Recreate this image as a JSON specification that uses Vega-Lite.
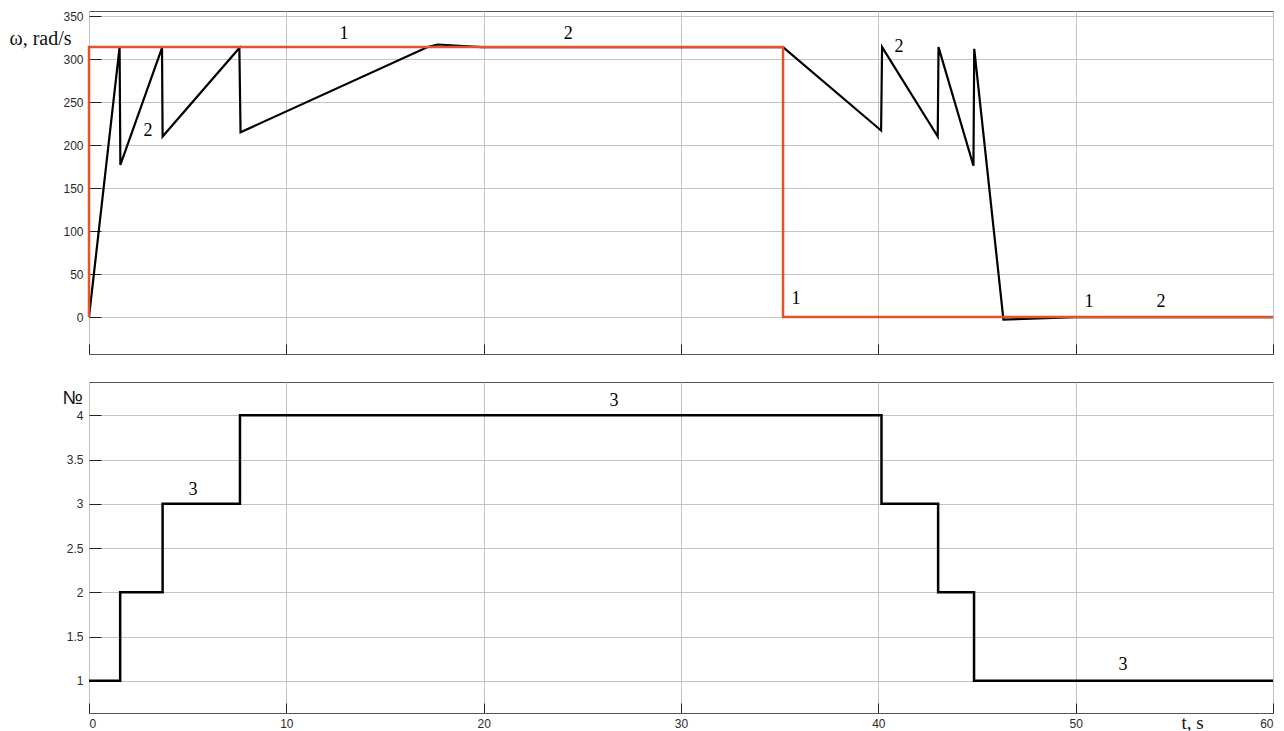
{
  "$schema": "https://vega.github.io/schema/vega-lite/v6.json",
  "padding": {"left": 8, "top": 9, "right": 4, "bottom": 0},
  "background": "white",
  "config": {
    "view": {"stroke": "#555", "strokeWidth": 1},
    "concat": {"spacing": 26},
    "axis": {
      "grid": false,
      "domain": false,
      "labelFont": "Liberation Sans",
      "labelFontSize": 12,
      "labelColor": "#2a2a2a",
      "tickColor": "#222",
      "tickWidth": 1,
      "gridColor": "#c4c4c4",
      "gridWidth": 1,
      "titleFont": "Liberation Serif",
      "titleFontWeight": "normal",
      "titleColor": "#111"
    }
  },
  "resolve": {"scale": {"x": "independent", "y": "independent"}, "axis": {"x": "independent", "y": "independent"}},
  "datasets": {
    "ref": [
      {"i": 0, "t": 0, "w": 0},
      {"i": 1, "t": 0, "w": 314},
      {"i": 2, "t": 35.17, "w": 314},
      {"i": 3, "t": 35.17, "w": 0},
      {"i": 4, "t": 60, "w": 0}
    ],
    "speed": [
      {"i": 0, "t": 0, "w": 0},
      {"i": 1, "t": 1.55, "w": 314},
      {"i": 2, "t": 1.59, "w": 177},
      {"i": 3, "t": 3.7, "w": 313},
      {"i": 4, "t": 3.73, "w": 210},
      {"i": 5, "t": 7.62, "w": 313},
      {"i": 6, "t": 7.68, "w": 215},
      {"i": 7, "t": 17.16, "w": 314},
      {"i": 8, "t": 17.67, "w": 317},
      {"i": 9, "t": 19.9, "w": 314},
      {"i": 10, "t": 35.17, "w": 314},
      {"i": 11, "t": 40.14, "w": 217},
      {"i": 12, "t": 40.19, "w": 314},
      {"i": 13, "t": 43.01, "w": 210},
      {"i": 14, "t": 43.05, "w": 314},
      {"i": 15, "t": 44.82, "w": 176},
      {"i": 16, "t": 44.86, "w": 312},
      {"i": 17, "t": 46.34, "w": -3},
      {"i": 18, "t": 50, "w": 0},
      {"i": 19, "t": 60, "w": 0}
    ],
    "num": [
      {"i": 0, "t": 0, "n": 1},
      {"i": 1, "t": 1.58, "n": 1},
      {"i": 2, "t": 1.58, "n": 2},
      {"i": 3, "t": 3.73, "n": 2},
      {"i": 4, "t": 3.73, "n": 3},
      {"i": 5, "t": 7.65, "n": 3},
      {"i": 6, "t": 7.65, "n": 4},
      {"i": 7, "t": 40.16, "n": 4},
      {"i": 8, "t": 40.16, "n": 3},
      {"i": 9, "t": 43.03, "n": 3},
      {"i": 10, "t": 43.03, "n": 2},
      {"i": 11, "t": 44.85, "n": 2},
      {"i": 12, "t": 44.85, "n": 1},
      {"i": 13, "t": 60, "n": 1}
    ],
    "lab1": [
      {"t": 12.92, "w": 329.8, "label": "1"},
      {"t": 24.28, "w": 329.8, "label": "2"},
      {"t": 2.99, "w": 216, "label": "2"},
      {"t": 41.05, "w": 314.7, "label": "2"},
      {"t": 35.83, "w": 20.9, "label": "1"},
      {"t": 50.68, "w": 17.4, "label": "1"},
      {"t": 54.33, "w": 17.4, "label": "2"}
    ],
    "lab2": [
      {"t": 5.27, "n": 3.16, "label": "3"},
      {"t": 26.6, "n": 4.16, "label": "3"},
      {"t": 52.4, "n": 1.18, "label": "3"}
    ]
  },
  "vconcat": [
    {
      "width": 1184,
      "height": 343,
      "layer": [
        {
          "data": {"name": "speed"},
          "mark": {"type": "line", "color": "#000", "strokeWidth": 2.2},
          "encoding": {
            "x": {"field": "t", "type": "quantitative",
                  "scale": {"domain": [0, 60], "nice": false, "zero": false},
                  "axis": {"orient": "bottom", "values": [0, 10, 20, 30, 40, 50, 60], "labels": false, "grid": true, "tickSize": -10, "title": null}},
            "y": {"field": "w", "type": "quantitative",
                  "scale": {"domain": [-43, 356], "nice": false, "zero": false},
                  "axis": {"orient": "left", "values": [0, 50, 100, 150, 200, 250, 300, 350], "grid": true, "tickSize": -12, "labelPadding": 18,
                           "title": "ω, rad/s", "titleAngle": 0, "titleAlign": "left", "titleBaseline": "middle", "titleX": -80, "titleY": 27, "titleFontSize": 20}},
            "order": {"field": "i", "type": "quantitative"}
          }
        },
        {
          "data": {"name": "ref"},
          "mark": {"type": "line", "color": "#e0562a", "strokeWidth": 2.5},
          "encoding": {
            "x": {"field": "t", "type": "quantitative"},
            "y": {"field": "w", "type": "quantitative"},
            "order": {"field": "i", "type": "quantitative"}
          }
        },
        {
          "data": {"name": "lab1"},
          "mark": {"type": "text", "font": "Liberation Serif", "fontSize": 18, "color": "#000", "align": "center", "baseline": "middle"},
          "encoding": {
            "x": {"field": "t", "type": "quantitative"},
            "y": {"field": "w", "type": "quantitative"},
            "text": {"field": "label"}
          }
        }
      ]
    },
    {
      "width": 1184,
      "height": 331,
      "layer": [
        {
          "data": {"name": "num"},
          "mark": {"type": "line", "color": "#000", "strokeWidth": 2.5},
          "encoding": {
            "x": {"field": "t", "type": "quantitative",
                  "scale": {"domain": [0, 60], "nice": false, "zero": false},
                  "axis": {"orient": "bottom", "values": [0, 10, 20, 30, 40, 50, 60], "grid": true, "tickSize": -10, "labelPadding": 15,
                           "title": "t, s", "titleFontSize": 19, "titleX": 1103, "titleY": 9, "titleBaseline": "middle", "titleAlign": "center"}},
            "y": {"field": "n", "type": "quantitative",
                  "scale": {"domain": [0.636, 4.377], "nice": false, "zero": false},
                  "axis": {"orient": "left", "values": [1, 1.5, 2, 2.5, 3, 3.5, 4], "format": "~g", "grid": true, "tickSize": -12, "labelPadding": 18,
                           "title": "№", "titleFont": "Liberation Sans", "titleFontSize": 19, "titleAngle": 0, "titleAlign": "left", "titleBaseline": "middle", "titleX": -27, "titleY": 15}},
            "order": {"field": "i", "type": "quantitative"}
          }
        },
        {
          "data": {"name": "lab2"},
          "mark": {"type": "text", "font": "Liberation Serif", "fontSize": 18, "color": "#000", "align": "center", "baseline": "middle"},
          "encoding": {
            "x": {"field": "t", "type": "quantitative"},
            "y": {"field": "n", "type": "quantitative"},
            "text": {"field": "label"}
          }
        }
      ]
    }
  ]
}
